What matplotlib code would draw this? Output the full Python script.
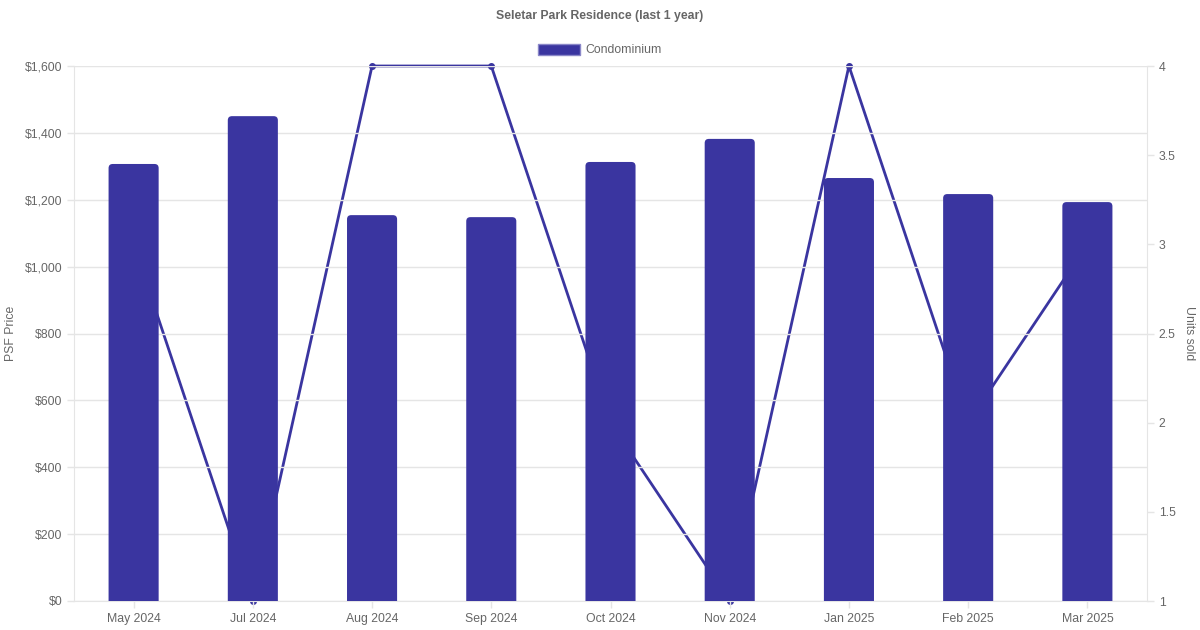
import matplotlib.pyplot as plt
from matplotlib.ticker import FuncFormatter
from matplotlib.patches import Patch, FancyBboxPatch

plt.rcParams['font.family'] = ['Liberation Sans', 'DejaVu Sans']

months = ['May 2024', 'Jul 2024', 'Aug 2024', 'Sep 2024', 'Oct 2024',
          'Nov 2024', 'Jan 2025', 'Feb 2025', 'Mar 2025']
psf = [1307, 1450, 1154, 1148, 1313, 1382, 1265, 1217, 1193]
units = [3, 1, 4, 4, 2, 1, 4, 2, 3]

color = '#3a35a0'
grey = '#666666'
gridc = '#e5e5e5'
fs = 8.8

fig = plt.figure(figsize=(12, 6.3), dpi=100)
ax = fig.add_axes([74/1200, 1-601/630, (1147-74)/1200, (601-66)/630])
ax2 = ax.twinx()

x = range(len(months))
bars = ax.bar(x, psf, width=0.42, color=color, zorder=3)
# rounded top corners, like the original
for b in bars:
    b.set_visible(False)
    px, w, h = b.get_x(), b.get_width(), b.get_height()
    rb = FancyBboxPatch((px, -30), w, h + 30,
                        boxstyle='round,pad=0,rounding_size=0.035',
                        mutation_aspect=350, fc=color, ec='none', zorder=3)
    ax.add_patch(rb)
ax2.plot(x, units, color=color, lw=2, marker='o', markersize=4, clip_on=False)

ax.set_zorder(ax2.get_zorder() + 1)
ax.patch.set_visible(False)

ax.set_xlim(-0.5, len(months) - 0.5)
ax.set_ylim(0, 1600)
ax.set_yticks(range(0, 1601, 200))
ax.yaxis.set_major_formatter(FuncFormatter(lambda v, p: '${:,.0f}'.format(v)))
ax2.set_ylim(1, 4)
ax2.set_yticks([1, 1.5, 2, 2.5, 3, 3.5, 4])
ax2.set_yticklabels(['1', '1.5', '2', '2.5', '3', '3.5', '4'])

ax.set_xticks(list(x))
ax.set_xticklabels(months)
ax.grid(axis='y', color=gridc, lw=1, zorder=0)

for a in (ax, ax2):
    for s in a.spines.values():
        s.set_visible(False)
    a.tick_params(colors=grey, labelsize=fs, length=5, width=1)
    a.tick_params(axis='both', color=gridc)
ax.spines['left'].set_visible(True)
ax.spines['left'].set_color(gridc)
ax.spines['bottom'].set_visible(True)
ax.spines['bottom'].set_color(gridc)
ax2.spines['right'].set_visible(True)
ax2.spines['right'].set_color(gridc)

ax.set_ylabel('PSF Price', color=grey, fontsize=fs, ha='center', va='center')
ax.yaxis.set_label_coords(-63/1073, 0.5)
ax2.set_ylabel('Units sold', color=grey, fontsize=fs, rotation=270, ha='center', va='center')
ax2.yaxis.set_label_coords(1 + 42/1073, 0.5)

fig.text(0.5, 1-16/630, 'Seletar Park Residence (last 1 year)', ha='center', va='center',
         color=grey, fontsize=fs, fontweight='bold')

handles = [Patch(facecolor=color, edgecolor='#8a87c8', label='Condominium')]
fig.legend(handles=handles, loc='center', bbox_to_anchor=(0.5, 1-50/630), frameon=False,
           fontsize=fs, labelcolor=grey, handlelength=3.4, handleheight=1.0, handletextpad=0.5)

fig.savefig('out.png', dpi=100)
